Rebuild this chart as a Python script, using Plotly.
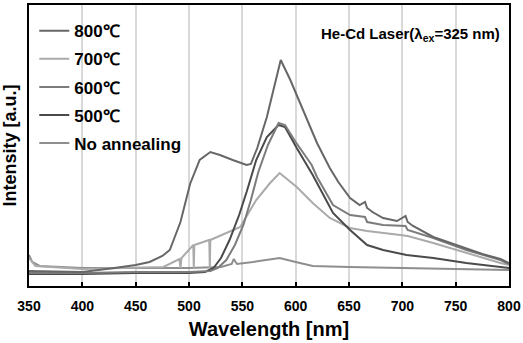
import plotly.graph_objects as go

# Wavelength (nm) and intensity (a.u.)
wl_800 = [350, 400, 430, 450, 463, 475, 482, 492, 501, 510, 520, 529, 541, 554, 558, 564, 573, 581, 586,
          595, 607, 620, 632, 640, 651, 660, 665, 667, 672, 682, 695, 703, 705, 710, 729, 745, 760, 775, 792, 800]
int_800 = [15, 14, 18, 21, 24, 30, 36, 64, 102, 126, 134, 131, 126, 121, 122, 138, 169, 206, 226,
           206, 176, 143, 118, 104, 88, 81, 84, 78, 74, 68, 65, 70, 64, 60, 49, 43, 38, 32, 27, 23]

wl_700 = [350, 356, 400, 450, 476, 491, 492, 493, 504, 504.5, 505, 519, 519.5, 520, 538, 548, 563, 576, 585,
          601, 616, 632, 651, 667, 698, 705, 729, 760, 792, 800]
int_700 = [28, 20, 17, 18, 19, 27, 18, 28, 41, 18, 41, 46, 18, 46, 54, 59, 86, 103, 113,
           99, 83, 68, 58, 55, 51, 50, 43, 33, 23, 21]

wl_600 = [350, 400, 450, 500, 520, 527, 535, 543, 551, 558, 565, 574, 584, 590, 600, 615, 620, 635,
          651, 665, 667, 682, 703, 705, 729, 760, 792, 800]
int_600 = [13, 13, 14, 14, 15, 18, 26, 41, 61, 86, 114, 141, 163, 161, 144, 121, 109, 81,
           71, 69, 64, 61, 60, 56, 48, 36, 26, 22]

wl_500 = [350, 400, 450, 500, 515, 523, 530, 538, 547, 554, 563, 573, 584, 590, 601, 616, 635, 651,
          667, 682, 704, 729, 760, 792, 800]
int_500 = [12, 12, 13, 13, 14, 18, 28, 46, 71, 94, 126, 149, 161, 159, 138, 111, 73, 56,
           41, 36, 31, 28, 23, 19.5, 18]

wl_none = [350, 353, 360, 400, 450, 500, 530, 540, 542, 545, 560, 585, 600, 616, 650, 700, 750, 800]
int_none = [31, 24, 20, 18, 18, 18, 19, 22, 27, 22, 24, 28, 24, 20, 19, 18, 17, 16]

names = ["800℃", "700℃", "600℃", "500℃", "No annealing"]
colors = ["#676767", "#aaaaaa", "#7c7c7c", "#4a4a4a", "#8e8e8e"]
series = [(wl_800, int_800), (wl_700, int_700), (wl_600, int_600), (wl_500, int_500), (wl_none, int_none)]
x_ticks = [350, 400, 450, 500, 550, 600, 650, 700, 750, 800]

FONT = "Liberation Sans, Arial, sans-serif"

fig = go.Figure()
draw_order = [4, 1, 3, 2, 0]
for i in draw_order:
    x, y = series[i]
    fig.add_trace(go.Scatter(x=x, y=y, mode="lines", name=f"<b>{names[i]}</b>", legendgroup=names[i],
                             legendrank=i + 1,
                             line=dict(color=colors[i], width=2)))

fig.update_layout(
    width=523, height=343,
    margin=dict(l=29, r=14, t=5, b=57, autoexpand=False),
    paper_bgcolor="white", plot_bgcolor="white",
    font=dict(family=FONT, color="black"),
    showlegend=True,
    legend=dict(x=0.011, y=0.971, xanchor="left", yanchor="top",
                bgcolor="rgba(0,0,0,0)", font=dict(size=17, family=FONT, color="black"),
                traceorder="grouped", tracegroupgap=3, itemwidth=30),
    xaxis=dict(range=[350, 800], tickvals=x_ticks, ticktext=[f"<b>{v}</b>" for v in x_ticks],
               tickfont=dict(size=14), ticks="inside", ticklen=4, tickcolor="black", tickwidth=1.5,
               ticklabelstandoff=6,
               showgrid=True, gridcolor="#d9d9d9", gridwidth=1.5, automargin=False,
               showline=True, linecolor="black", linewidth=2, mirror=True, zeroline=False,
               title=dict(text="<b>Wavelength [nm]</b>", font=dict(size=20), standoff=9)),
    yaxis=dict(range=[0, 281], showticklabels=False, ticks="", showgrid=False, zeroline=False,
               showline=True, linecolor="black", linewidth=2, mirror=True, automargin=False,
               title=dict(text="<b>Intensity [a.u.]</b>", font=dict(size=18), standoff=6)),
    annotations=[dict(x=0.985, y=0.895, xref="paper", yref="paper", xanchor="right", yanchor="middle",
                      showarrow=False, font=dict(size=15, family=FONT, color="black"),
                      text="<b>He-Cd Laser(λ<sub>ex</sub>=325 nm)</b>")],
)

fig.write_html("out.html", config={"displayModeBar": False},
               post_script="document.body.style.margin='0';")
